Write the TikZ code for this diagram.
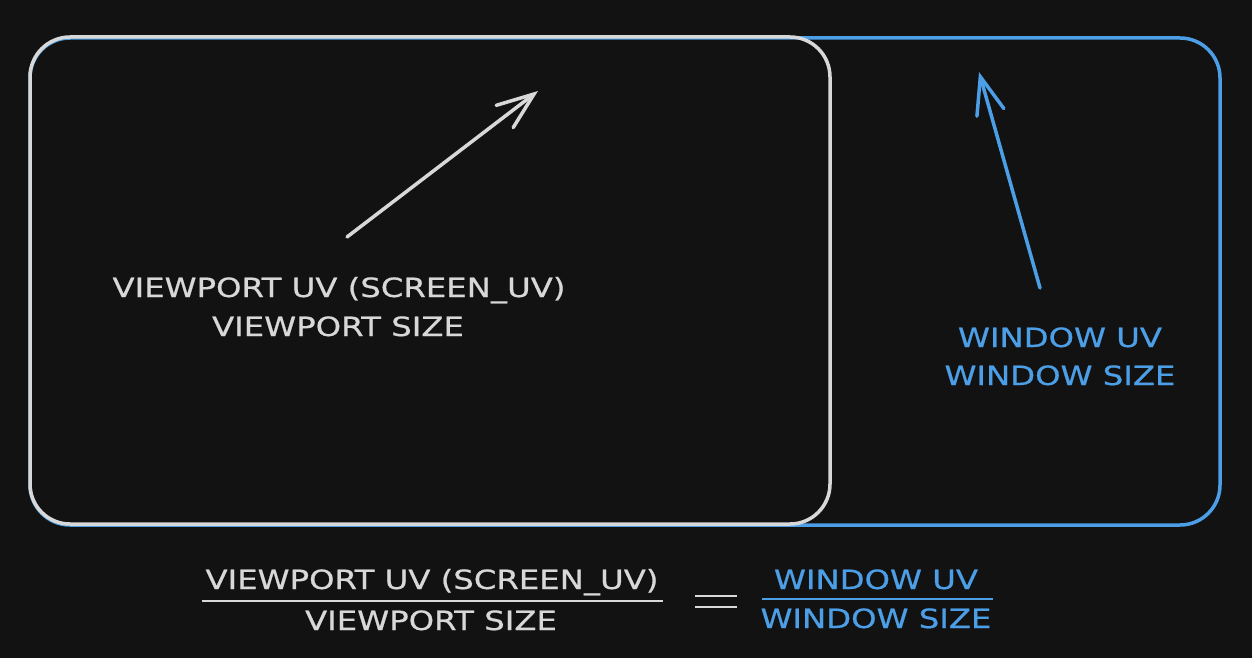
\documentclass[tikz,border=0pt]{standalone}
\usepackage{fontspec}
\newfontfamily\hand[FakeStretch=1.22,FakeBold=0.7]{DejaVu Sans}
\usetikzlibrary{arrows.meta}
\definecolor{bg}{HTML}{121212}
\definecolor{chalk}{HTML}{D8D8D8}
\definecolor{sky}{HTML}{4C9FE6}
\begin{document}
\begin{tikzpicture}[x=1pt,y=-1pt,
  lbl/.style={font=\hand\fontsize{26.5}{30}\selectfont, anchor=base, inner sep=0pt},
  frame/.style={draw, line width=3.5pt, rounded corners=40pt, inner sep=0pt, fill=none},
  pointer/.style={line width=3.5pt, line cap=round, -{Straight Barb[length=37pt,width=28pt,line cap=round]}},
  rule/.style={line width=2.5pt}]
\fill[bg] (0,0) rectangle (1252,658);
\useasboundingbox (0,0) rectangle (1252,658);
% frames
\node[frame, sky, minimum width=1190pt, minimum height=487pt] (window) at (625,281.5) {};
\node[frame, chalk, minimum width=800pt, minimum height=487pt] (viewport) at (430,280.5) {};
% arrows
\coordinate (vpFrom) at (347,237);
\coordinate (vpTo) at (538,91);
\draw[pointer, chalk] (vpFrom) -- (vpTo);
\coordinate (wFrom) at (1040,288);
\coordinate (wTo) at (979,72);
\draw[pointer, sky] (wFrom) -- (wTo);
% labels in frames
\node[lbl, text=chalk] (vp1) at (339,297) {VIEWPORT UV (SCREEN\_UV)};
\node[lbl, text=chalk] (vp2) at (338,336) {VIEWPORT SIZE};
\node[lbl, text=sky] (w1) at (1060,347) {WINDOW UV};
\node[lbl, text=sky] (w2) at (1060,385) {WINDOW SIZE};
% bottom equation
\node[lbl, text=chalk] (num1) at (432,589) {VIEWPORT UV (SCREEN\_UV)};
\node[lbl, text=chalk] (den1) at (431,630) {VIEWPORT SIZE};
\coordinate (f1a) at (202,601);
\coordinate (f1b) at (663,601);
\draw[rule, chalk] (f1a) -- (f1b);
\coordinate (eqa) at (695,596);
\coordinate (eqb) at (737,596);
\coordinate (eqc) at (695,607);
\coordinate (eqd) at (737,607);
\draw[rule, chalk] (eqa) -- (eqb);
\draw[rule, chalk] (eqc) -- (eqd);
\node[lbl, text=sky] (num2) at (876,589) {WINDOW UV};
\node[lbl, text=sky] (den2) at (876,628) {WINDOW SIZE};
\coordinate (f2a) at (762,599);
\coordinate (f2b) at (993,599);
\draw[rule, sky] (f2a) -- (f2b);
\end{tikzpicture}
\end{document}
